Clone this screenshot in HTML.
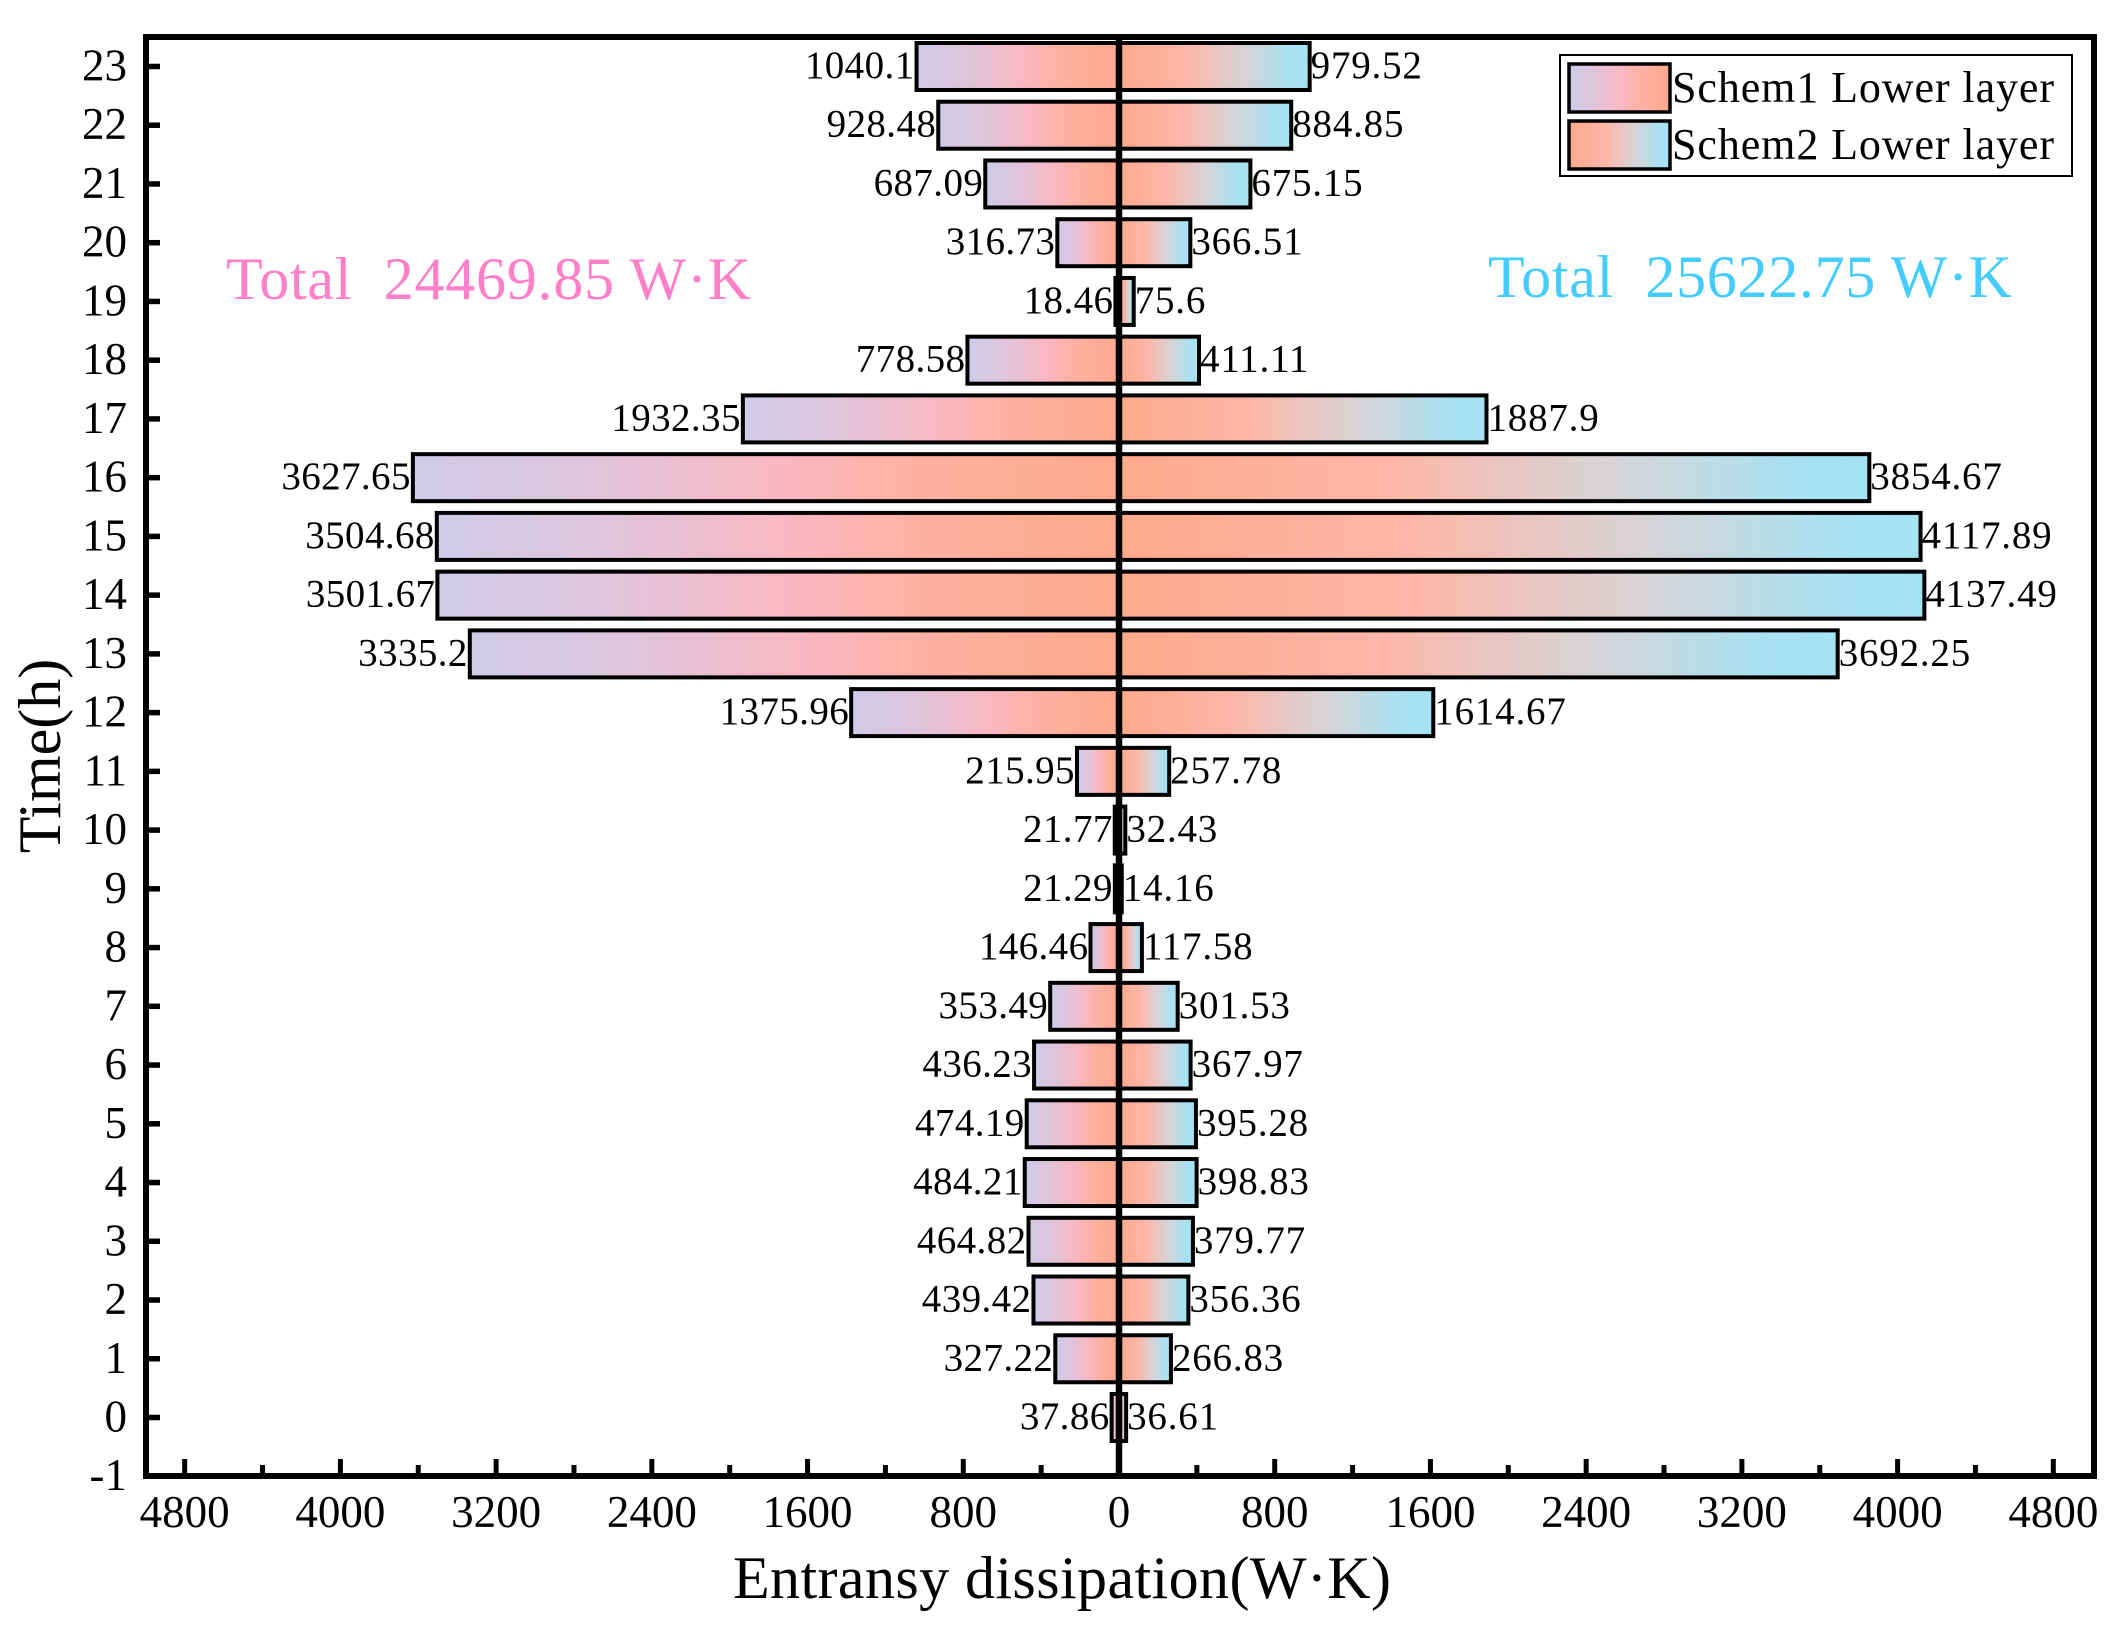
<!DOCTYPE html>
<html lang="en">
<head>
<meta charset="utf-8">
<title>Entransy dissipation by hour</title>
<style>
html,body{margin:0;padding:0;background:#fff;}
svg{display:block;}
text{font-family:"Liberation Serif","Times New Roman",serif;fill:#000;white-space:pre;}
</style>
</head>
<body>
<svg id="chart" xmlns="http://www.w3.org/2000/svg" width="2128" height="1640" viewBox="0 0 2128 1640">
  <defs>
    <linearGradient id="g1" x1="0" x2="1" y1="0" y2="0">
      <stop offset="0" stop-color="#cfcbe8"/>
      <stop offset="0.25" stop-color="#dfc4dc"/>
      <stop offset="0.5" stop-color="#f8b8c4"/>
      <stop offset="0.72" stop-color="#ffb0a0"/>
      <stop offset="1" stop-color="#ffa98c"/>
    </linearGradient>
    <linearGradient id="g2" x1="0" x2="1" y1="0" y2="0">
      <stop offset="0" stop-color="#ffa98c"/>
      <stop offset="0.36" stop-color="#feb6a8"/>
      <stop offset="0.65" stop-color="#d8d3d6"/>
      <stop offset="0.9" stop-color="#a8e2f2"/>
      <stop offset="1" stop-color="#a4e3f4"/>
    </linearGradient>
  </defs>
  <rect x="0" y="0" width="2128" height="1640" fill="#fff"/>
  <g id="bars"></g>
  <g id="labels"></g>
  <g id="axes"></g>
  <text x="226" y="299" font-size="60" textLength="525" lengthAdjust="spacing" style="fill:#ff80c8">Total  24469.85 W·K</text>
  <text x="1488" y="297" font-size="60" textLength="524" lengthAdjust="spacing" style="fill:#45ccff">Total  25622.75 W·K</text>
  <g>
    <rect x="1560" y="55" width="512" height="121" fill="#fff" stroke="#000" stroke-width="2"/>
    <rect x="1569" y="64" width="101" height="48" fill="url(#g1)" stroke="#000" stroke-width="3.5"/>
    <rect x="1569" y="121" width="101" height="48" fill="url(#g2)" stroke="#000" stroke-width="3.5"/>
    <text x="1672" y="102" font-size="44" textLength="382" lengthAdjust="spacing">Schem1 Lower layer</text>
    <text x="1672" y="159" font-size="44" textLength="382" lengthAdjust="spacing">Schem2 Lower layer</text>
  </g>
  <text x="1062" y="1598" font-size="60" text-anchor="middle" textLength="658" lengthAdjust="spacing">Entransy dissipation(W·K)</text>
  <text transform="translate(60,756) rotate(-90)" font-size="60" text-anchor="middle">Time(h)</text>
</svg>
<script>
const hours = [23,22,21,20,19,18,17,16,15,14,13,12,11,10,9,8,7,6,5,4,3,2,1,0];
const schem1Values = [1040.1,928.48,687.09,316.73,18.46,778.58,1932.35,3627.65,3504.68,3501.67,3335.2,1375.96,215.95,21.77,21.29,146.46,353.49,436.23,474.19,484.21,464.82,439.42,327.22,37.86];
const schem2Values = [979.52,884.85,675.15,366.51,75.6,411.11,1887.9,3854.67,4117.89,4137.49,3692.25,1614.67,257.78,32.43,14.16,117.58,301.53,367.97,395.28,398.83,379.77,356.36,266.83,36.61];
const xMajorTicks = [-4800,-4000,-3200,-2400,-1600,-800,0,800,1600,2400,3200,4000,4800];
const xMinorTicks = [-4400,-3600,-2800,-2000,-1200,-400,400,1200,2000,2800,3600,4400];
const yTicks = [-1,0,1,2,3,4,5,6,7,8,9,10,11,12,13,14,15,16,17,18,19,20,21,22,23];

const NS = 'http://www.w3.org/2000/svg';
const frame = {left:146, right:2094, top:37, bottom:1476};
function xPos(v){ return 1119 + 0.19465 * v; }
function yPos(h){ return 1417.5 - 58.74 * h; }
const barHeight = 0.8 * 58.74;

function mk(tag, attrs, parent){
  const el = document.createElementNS(NS, tag);
  for (const k in attrs) el.setAttribute(k, attrs[k]);
  parent.appendChild(el);
  return el;
}
const bars = document.getElementById('bars');
const labels = document.getElementById('labels');
const axes = document.getElementById('axes');

hours.forEach(function(h, i){
  const a = schem1Values[i], b = schem2Values[i];
  const y = yPos(h) - barHeight / 2;
  const left = mk('rect', {x:xPos(-a), y:y, width:xPos(0)-xPos(-a), height:barHeight, fill:'url(#g1)', stroke:'#000', 'stroke-width':4}, bars);
  
  
  const right = mk('rect', {x:xPos(0), y:y, width:xPos(b)-xPos(0), height:barHeight, fill:'url(#g2)', stroke:'#000', 'stroke-width':4}, bars);
  
  
  const lt = mk('text', {x:xPos(-a)-2, y:yPos(h)+11.5, 'font-size':39, 'text-anchor':'end', 'letter-spacing':'0.4'}, labels);
  lt.textContent = String(a);
  
  
  const rt = mk('text', {x:xPos(b)+1, y:yPos(h)+11.5, 'font-size':39, 'letter-spacing':'0.8'}, labels);
  rt.textContent = String(b);
  
  
});

const zeroLine = mk('line', {x1:xPos(0), x2:xPos(0), y1:frame.top, y2:frame.bottom, stroke:'#000', 'stroke-width':6.5}, axes);



xMajorTicks.forEach(function(v){
  const t = mk('line', {x1:xPos(v), x2:xPos(v), y1:frame.bottom, y2:frame.bottom-17, stroke:'#000', 'stroke-width':5}, axes);
  
  
  const l = mk('text', {x:xPos(v), y:frame.bottom+51, 'font-size':45, 'text-anchor':'middle'}, axes);
  l.textContent = String(Math.abs(v));
  
  
});
xMinorTicks.forEach(function(v){
  const t = mk('line', {x1:xPos(v), x2:xPos(v), y1:frame.bottom, y2:frame.bottom-11, stroke:'#000', 'stroke-width':5}, axes);
  
  
});
yTicks.forEach(function(h){
  const t = mk('line', {x1:frame.left, x2:frame.left+14, y1:yPos(h), y2:yPos(h), stroke:'#000', 'stroke-width':5.5}, axes);
  
  
  const l = mk('text', {x:127, y:yPos(h)+14, 'font-size':45, 'text-anchor':'end'}, axes);
  l.textContent = String(h);
  
  
});
const border = mk('rect', {x:frame.left, y:frame.top, width:frame.right-frame.left, height:frame.bottom-frame.top, fill:'none', stroke:'#000', 'stroke-width':6}, axes);


</script>
</body>
</html>
